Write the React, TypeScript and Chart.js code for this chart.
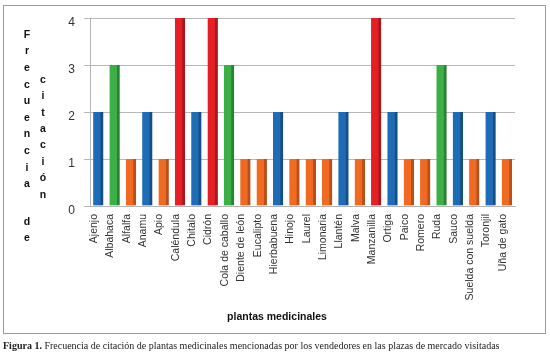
import React, { useEffect, useRef } from "react";
import { Chart, registerables } from "chart.js";

Chart.register(...registerables);

const plantas = [
  "Ajenjo", "Albahaca", "Alfalfa", "Anamu", "Apio", "Caléndula", "Chitalo", "Cidrón",
  "Cola de caballo", "Diente de león", "Eucalipto", "Hierbabuena", "Hinojo", "Laurel",
  "Limonaria", "Llantén", "Malva", "Manzanilla", "Ortiga", "Paico", "Romero", "Ruda",
  "Sauco", "Suelda con suelda", "Toronjil", "Uña de gato",
];
const frecuencia = [2, 3, 1, 2, 1, 4, 2, 4, 3, 1, 1, 2, 1, 1, 1, 2, 1, 4, 2, 1, 1, 3, 2, 1, 2, 1];
const yTicks = [0, 1, 2, 3, 4];
const colorPorValor: Record<number, string> = { 1: "#f06a22", 2: "#1f6cb6", 3: "#3cb046", 4: "#e51f26" };
const bordePorValor: Record<number, string> = { 1: "#b9501a", 2: "#154f86", 3: "#2a8232", 4: "#a9161c" };
const tituloY1 = "Frecuencia";
const tituloY2 = "de";
const tituloY3 = "citación";
const tituloX = "plantas medicinales";
const leyenda = "Frecuencia de citación de plantas medicinales mencionadas por los vendedores en las plazas de mercado visitadas";

const titlesPlugin = {
  id: "titles",
  afterDraw(chart: any) {
    const ctx = chart.ctx;
    ctx.save();
    ctx.fillStyle = "#111";
    ctx.font = "bold 10.5px 'Liberation Sans', Arial, sans-serif";
    ctx.textAlign = "center";
    ctx.textBaseline = "middle";
    tituloY1.split("").forEach((ch, i) => ctx.fillText(ch, 27, 35 + i * 16.6));
    tituloY2.split("").forEach((ch, i) => ctx.fillText(ch, 27, 222 + i * 16.5));
    tituloY3.split("").forEach((ch, i) => ctx.fillText(ch, 43, 80 + i * 16.4));
    ctx.fillText(tituloX, 277, 317);
    ctx.restore();
  },
};

export default function App() {
  const ref = useRef<HTMLCanvasElement>(null);
  useEffect(() => {
    document.body.style.margin = "0";
    const chart = new Chart(ref.current!, {
      type: "bar",
      data: {
        labels: plantas,
        datasets: [
          {
            data: frecuencia,
            backgroundColor: frecuencia.map((v) => colorPorValor[v]),
            borderColor: frecuencia.map((v) => bordePorValor[v]),
            borderWidth: { top: 0, right: 3, bottom: 0, left: 0 },
            borderSkipped: false,
            barThickness: 10,
          },
        ],
      },
      options: {
        responsive: false,
        animation: false,
        layout: { padding: { top: 18, right: 35, left: 0, bottom: 0 } },
        plugins: { legend: { display: false }, tooltip: { enabled: false } },
        scales: {
          x: {
            grid: { display: false, drawTicks: false },
            border: { color: "#b5b5b5" },
            ticks: {
              autoSkip: false,
              maxRotation: 90,
              minRotation: 90,
              padding: 8,
              labelOffset: -4,
              color: "#333",
              font: { family: "'Liberation Sans', Arial, sans-serif", size: 10.5 },
            },
            afterFit: (s: any) => { s.height = 129; },
          },
          y: {
            min: 0,
            max: 4,
            afterBuildTicks: (s: any) => { s.ticks = yTicks.map((v) => ({ value: v })); },
            grid: { color: "#b8b8b8", tickLength: 6 },
            border: { color: "#b5b5b5" },
            ticks: {
              padding: 9,
              labelOffset: 5,
              color: "#333",
              font: { family: "'Liberation Sans', Arial, sans-serif", size: 12 },
            },
            afterFit: (s: any) => { s.width = 90; },
          },
        },
      },
      plugins: [titlesPlugin],
    });
    return () => chart.destroy();
  }, []);

  return (
    <div style={{ position: "fixed", left: 0, top: 0, width: 550, height: 359, background: "#fff" }}>
      <canvas ref={ref} width={550} height={335} style={{ position: "absolute", left: 0, top: 0 }} />
      <div
        style={{
          position: "absolute", left: 3, top: 5, width: 541, height: 327,
          border: "1px solid #9a9a9a", pointerEvents: "none",
        }}
      />
      <div
        style={{
          position: "absolute", left: 3, top: 340, whiteSpace: "nowrap",
          fontFamily: "'Liberation Serif', 'Times New Roman', serif", fontSize: 10, color: "#222",
        }}
      >
        <b>Figura 1.</b> {leyenda}
      </div>
    </div>
  );
}
